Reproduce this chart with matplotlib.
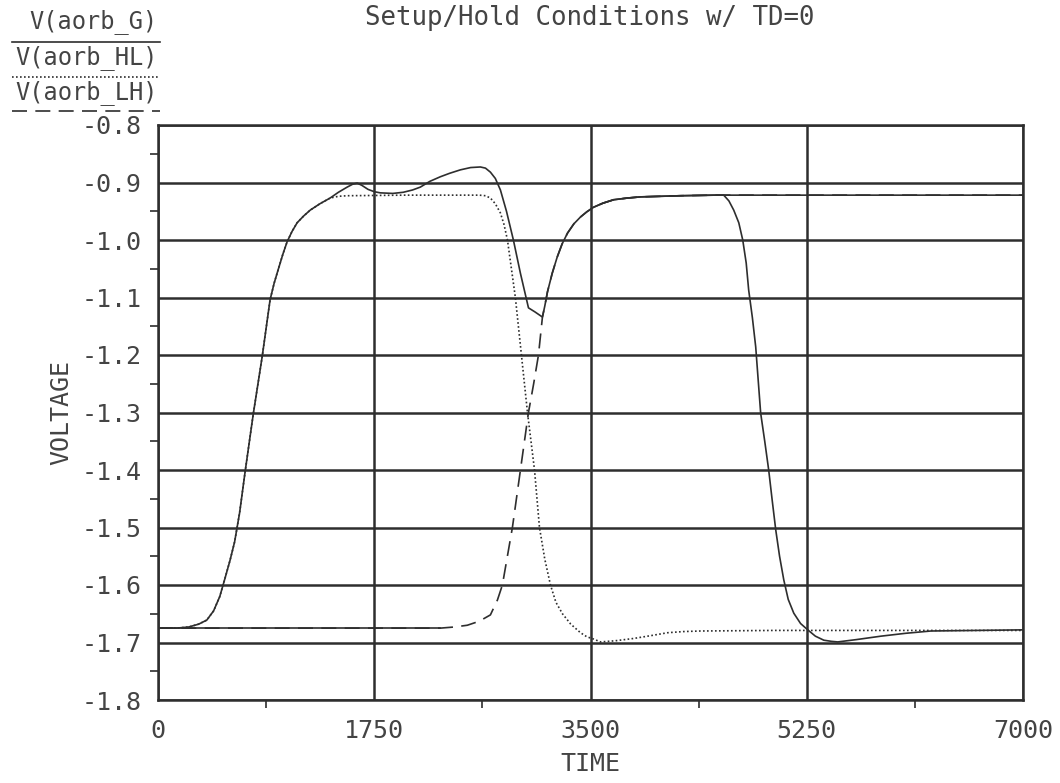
import numpy as np
import matplotlib
matplotlib.use("Agg")
import matplotlib.pyplot as plt
from matplotlib.lines import Line2D
from matplotlib.ticker import MultipleLocator

# V(aorb_G) - solid
t_g = [0, 150, 250, 330, 395, 450, 500, 540, 583, 620, 660, 705, 770, 843, 907,
       940, 972, 1010, 1045, 1085, 1126, 1180, 1232, 1310, 1393, 1460, 1531,
       1575, 1612, 1650, 1700, 1750, 1799, 1900, 1985, 2060, 2123, 2200, 2285,
       2360, 2447, 2530, 2609, 2650, 2690, 2730, 2771, 2820, 2876, 2933, 2998,
       3050, 3111, 3130, 3152, 3190, 3230, 3270, 3314, 3365, 3419, 3470, 3525,
       3600, 3687, 3800, 3905, 4229, 4500, 4578, 4620, 4659, 4700, 4732, 4760,
       4780, 4810, 4837, 4877, 4910, 4942, 4970, 4999, 5030, 5064, 5100, 5145,
       5200, 5258, 5320, 5388, 5450, 5501, 5650, 5850, 6050, 6255, 7000]
v_g = [-1.675, -1.675, -1.673, -1.668, -1.661, -1.645, -1.620, -1.590, -1.557,
       -1.525, -1.475, -1.403, -1.304, -1.203, -1.104, -1.075, -1.052, -1.025,
       -1.003, -0.985, -0.970, -0.958, -0.948, -0.937, -0.927, -0.917, -0.908,
       -0.903, -0.901, -0.905, -0.912, -0.916, -0.918, -0.919, -0.917, -0.913,
       -0.908, -0.898, -0.890, -0.884, -0.878, -0.874, -0.873, -0.875, -0.882,
       -0.893, -0.913, -0.950, -1.000, -1.058, -1.118, -1.125, -1.134, -1.115,
       -1.090, -1.058, -1.030, -1.007, -0.988, -0.972, -0.960, -0.951, -0.943,
       -0.936, -0.930, -0.927, -0.925, -0.923, -0.922, -0.922, -0.932, -0.948,
       -0.970, -1.000, -1.040, -1.087, -1.135, -1.186, -1.301, -1.350, -1.400,
       -1.452, -1.504, -1.550, -1.591, -1.625, -1.649, -1.667, -1.678, -1.689,
       -1.696, -1.698, -1.699, -1.695, -1.689, -1.684, -1.680, -1.678]

# V(aorb_HL) - dotted
t_hl = [0, 150, 250, 330, 395, 450, 500, 540, 583, 620, 660, 705, 770, 843, 907,
        940, 972, 1010, 1045, 1085, 1126, 1180, 1232, 1310, 1393, 1460, 1531,
        2000, 2600, 2650, 2690, 2730, 2771, 2800, 2828, 2860, 2892, 2941, 2990,
        3047, 3087, 3130, 3176, 3220, 3273, 3340, 3419, 3470, 3525, 3581, 3700,
        3849, 3990, 4124, 4250, 4391, 5000, 7000]
v_hl = [-1.675, -1.675, -1.673, -1.668, -1.661, -1.645, -1.620, -1.590, -1.557,
        -1.525, -1.475, -1.403, -1.304, -1.203, -1.104, -1.075, -1.052, -1.025,
        -1.003, -0.985, -0.970, -0.958, -0.948, -0.937, -0.927, -0.924, -0.923,
        -0.922, -0.922, -0.923, -0.927, -0.937, -0.953, -0.973, -1.000, -1.050,
        -1.100, -1.200, -1.300, -1.400, -1.500, -1.555, -1.600, -1.630, -1.650,
        -1.668, -1.683, -1.690, -1.694, -1.699, -1.697, -1.693, -1.688, -1.683,
        -1.681, -1.680, -1.679, -1.679]

# V(aorb_LH) - dashed
t_lh = [0, 2285, 2400, 2503, 2600, 2690, 2747, 2787, 2868, 2933, 2998, 3040,
        3079, 3111, 3130, 3152, 3190, 3230, 3270, 3314, 3365, 3419, 3470, 3525,
        3600, 3687, 3800, 3905, 4229, 4500, 7000]
v_lh = [-1.675, -1.675, -1.673, -1.670, -1.663, -1.652, -1.626, -1.600, -1.500,
        -1.400, -1.300, -1.250, -1.200, -1.134, -1.115, -1.090, -1.058, -1.030,
        -1.007, -0.988, -0.972, -0.960, -0.951, -0.943, -0.936, -0.930, -0.927,
        -0.925, -0.923, -0.922, -0.922]

x_ticks = [0, 1750, 3500, 5250, 7000]
x_labels = ["0", "1750", "3500", "5250", "7000"]
y_ticks = [-1.8, -1.7, -1.6, -1.5, -1.4, -1.3, -1.2, -1.1, -1.0, -0.9, -0.8]

ink = "#2e2e2e"
txt = "#444444"
plt.rcParams['font.family'] = "DejaVu Sans Mono"

fig = plt.figure(figsize=(10.6, 7.83), dpi=100)
ax = fig.add_axes([158 / 1060, 1 - 700 / 783, 865 / 1060, 575 / 783])

lw = 1.2
ax.plot(t_g, v_g, color=ink, lw=lw)
ax.plot(t_hl, v_hl, color=ink, lw=lw, linestyle=(0, (1, 1.4)))
ax.plot(t_lh, v_lh, color=ink, lw=lw, linestyle=(0, (9, 5)))
# the plotter draws long flat stretches of the dashed trace as one stroke
t_lh_a = np.array(t_lh)
v_lh_a = np.array(v_lh)
ax.plot(t_lh_a[t_lh_a >= 3525], v_lh_a[t_lh_a >= 3525], color=ink, lw=lw)
ax.plot(t_lh_a[t_lh_a <= 2285], v_lh_a[t_lh_a <= 2285], color=ink, lw=lw)

ax.set_xlim(0, 7000)
ax.set_ylim(-1.8, -0.8)
ax.set_xticks(x_ticks)
ax.set_xticklabels(x_labels)
ax.set_yticks(y_ticks)
ax.set_yticklabels([f"{v:.1f}" for v in y_ticks])
ax.xaxis.set_minor_locator(MultipleLocator(875))
ax.yaxis.set_minor_locator(MultipleLocator(0.05))
ax.tick_params(which='major', length=0, labelsize=18, colors=txt)
ax.tick_params(axis='x', which='major', pad=14)
ax.tick_params(axis='y', which='major', pad=12)
ax.tick_params(which='minor', length=6, width=1.2, color=ink, direction='out')
ax.grid(True, which='major', color=ink, lw=1.8)
for s in ax.spines.values():
    s.set_color(ink)
    s.set_linewidth(1.8)

ax.set_xlabel("TIME", fontsize=18, color=txt, labelpad=6)
ax.set_ylabel("VOLTAGE", fontsize=18, color=txt, labelpad=6)

fig.text(590 / 1060, 1 - 18 / 783, "Setup/Hold Conditions w/ TD=0",
         fontsize=18.5, color=txt, ha='center', va='center')

# legend block at the top left
names = ["V(aorb_G)", "V(aorb_HL)", "V(aorb_LH)"]
styles = ['-', (0, (1, 1.4)), (0, (9, 5))]
text_y = [22, 58, 93]
line_y = [42, 77, 111]
for name, st, ty, ly in zip(names, styles, text_y, line_y):
    fig.text(158 / 1060, 1 - ty / 783, name, fontsize=17, color=txt,
             ha='right', va='center')
    fig.add_artist(Line2D([12 / 1060, 160 / 1060], [1 - ly / 783] * 2,
                          color=ink, lw=lw, linestyle=st))

fig.savefig("out.png", dpi=100, facecolor='white')
